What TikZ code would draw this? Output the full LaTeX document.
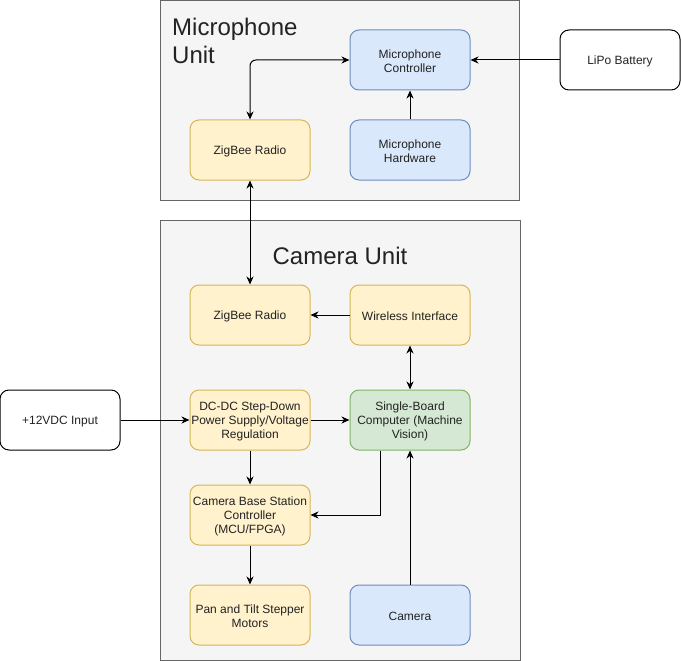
\documentclass[tikz,border=0pt]{standalone}
\usepackage{fontspec}
\setmainfont{Liberation Sans}
\usetikzlibrary{arrows.meta}
\definecolor{ylwfill}{HTML}{FFF2CC}
\definecolor{ylwline}{HTML}{D6B656}
\definecolor{bluefill}{HTML}{DAE8FC}
\definecolor{blueline}{HTML}{6C8EBF}
\definecolor{grnfill}{HTML}{D5E8D4}
\definecolor{grnline}{HTML}{82B366}
\definecolor{contfill}{HTML}{F5F5F5}
\definecolor{contline}{HTML}{666666}
\definecolor{txt}{HTML}{222222}
\tikzset{
  base box/.style={rounded corners=9pt, minimum width=120pt, minimum height=60pt,
    inner sep=0pt, line width=1pt},
  lbl/.style={align=center, text=txt, inner sep=0pt, yshift=-1.5pt,
    font=\fontsize{12}{14}\selectfont},
  ybox/.style={base box, draw=ylwline, fill=ylwfill},
  bbox/.style={base box, draw=blueline, fill=bluefill},
  gbox/.style={base box, draw=grnline, fill=grnfill},
  wbox/.style={base box, draw=black, fill=white},
  container/.style={draw=contline, fill=contfill, line width=1pt, inner sep=0pt},
  conn/.style={line width=1pt, -{Stealth[length=8pt,width=7pt,inset=2.5pt]}},
  bconn/.style={line width=1pt, {Stealth[length=8pt,width=7pt,inset=2.5pt]}-{Stealth[length=8pt,width=7pt,inset=2.5pt]}},
  title/.style={text=txt, font=\fontsize{24}{28}\selectfont, inner sep=0pt}
}
\begin{document}
\begin{tikzpicture}[x=1pt, y=-1pt]
\useasboundingbox (0,0) rectangle (681,661);
% containers
\node[container, minimum width=359pt, minimum height=199pt] (micunit) at (340,100.5) {};
\node[container, minimum width=360pt, minimum height=440pt] (camunit) at (340,440) {};
\node[title, anchor=north west, align=left] (mictitle) at (172,17.5) {Microphone\\Unit};
\node[title, anchor=base] (camtitle) at (340,264) {Camera Unit};
% microphone unit boxes
\node[bbox, label={[lbl]center:Microphone\\Controller}] (mc) at (410,60) {};
\node[ybox, label={[lbl]center:ZigBee Radio}] (mz) at (250,150) {};
\node[bbox, label={[lbl]center:Microphone\\Hardware}] (mh) at (410,150) {};
\node[wbox, label={[lbl]center:LiPo Battery}] (lipo) at (620,60) {};
% camera unit boxes
\node[ybox, label={[lbl]center:ZigBee Radio}] (cz) at (250,315) {};
\node[ybox, label={[lbl]center:Wireless Interface}] (wi) at (410,315) {};
\node[ybox, label={[lbl]center:DC-DC Step-Down\\Power Supply/Voltage\\Regulation}] (dc) at (250,420) {};
\node[gbox, label={[lbl]center:Single-Board\\Computer (Machine\\Vision)}] (sbc) at (410,420) {};
\node[ybox, label={[lbl]center:Camera Base Station\\Controller\\(MCU/FPGA)}] (cb) at (250,515) {};
\node[ybox, label={[lbl]center:Pan and Tilt Stepper\\Motors}] (pt) at (250,615) {};
\node[bbox, label={[lbl]center:Camera}] (cam) at (410,615) {};
\node[wbox, label={[lbl]center:+12VDC Input}] (in) at (60,420) {};
% connectors
\draw[bconn, rounded corners=6pt] (mz.north) |- (mc.west);
\draw[conn] (mh.north) -- (mc.south);
\draw[conn] (lipo.west) -- (mc.east);
\draw[bconn] (mz.south) -- (cz.north);
\draw[conn] (wi.west) -- (cz.east);
\draw[bconn] (wi.south) -- (sbc.north);
\draw[conn] (in.east) -- (dc.west);
\draw[conn] (dc.east) -- (sbc.west);
\draw[conn] (dc.south) -- (cb.north);
\draw[conn] ([xshift=-30pt]sbc.south) |- (cb.east);
\draw[conn] (cb.south) -- (pt.north);
\draw[conn] (cam.north) -- (sbc.south);
\end{tikzpicture}
\end{document}
